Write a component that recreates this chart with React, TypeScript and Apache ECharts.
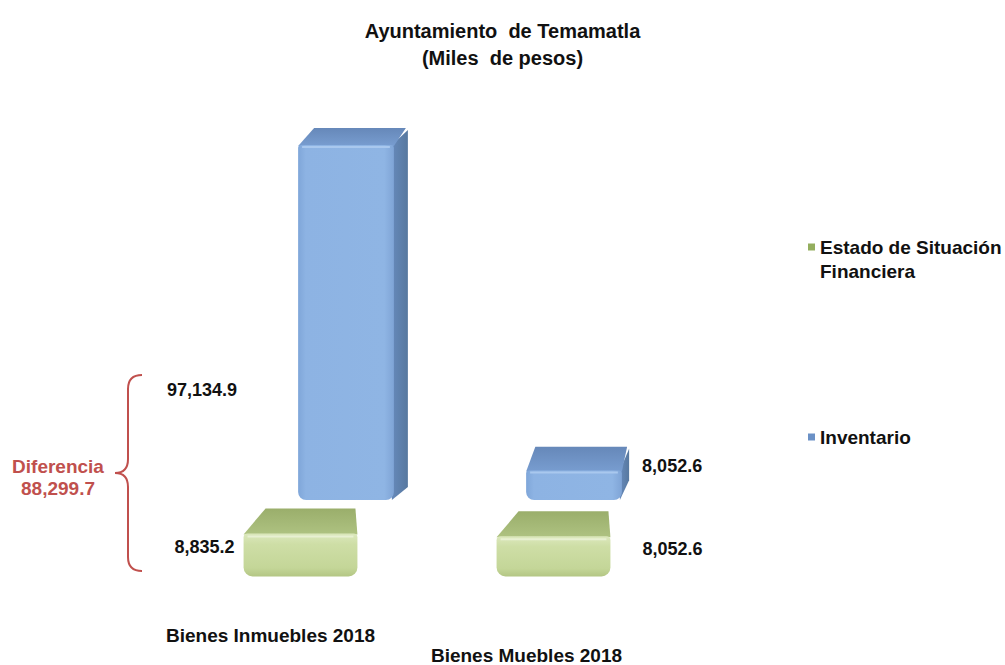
import React, { useEffect, useRef } from 'react';
import * as echarts from 'echarts';

const categories = ['Bienes Inmuebles 2018', 'Bienes Muebles 2018'];
const seriesNames = ['Estado de Situación Financiera', 'Inventario'];
const estadoValues = [8835.2, 8052.6];
const inventarioValues = [97134.9, 8052.6];
const titleText = 'Ayuntamiento  de Temamatla\n(Miles  de pesos)';
const diffCaption = 'Diferencia';

const FONT = '"Liberation Sans", Arial, sans-serif';
const fmt = (v: number) =>
  v.toLocaleString('en-US', { minimumFractionDigits: 1, maximumFractionDigits: 1 });

const BRACE_D =
  'M27,0 Q13,0 13,14 L13,84 Q13,98 0,98 Q13,98 13,112 L13,182 Q13,196 27,196';
let braceRegistered = false;

type Kind = 'front' | 'back';

function makeRenderItem(kind: Kind) {
  return (params: any, api: any) => {
    const idx = api.value(0) as number;
    const val = api.value(1) as number;
    const pt = api.coord([idx, val]);
    const cs = params.coordSys;
    const yB = cs.y + cs.height;
    const band = api.size([1, 0])[0];
    const w = band * (kind === 'front' ? 0.45 : 0.42);
    const x0 = pt[0] - w / 2;
    const x1 = pt[0] + w / 2;
    const yT = pt[1];
    const t = Math.min(1, Math.max(0, (yT - 145) / (530 - 145)));
    const dy = 17 + 8 * t;
    const children: any[] = [];
    if (kind === 'back') {
      const dx = 14 - 8 * t;
      children.push({
        type: 'polygon',
        shape: { points: [[x1 - 2, yT], [x1 + dx, yT - dy + 2], [x1 + dx, yB - dy + 4], [x1 - 2, yB]] },
        style: {
          fill: new echarts.graphic.LinearGradient(0, 0, 1, 0, [
            { offset: 0, color: '#6689BA' },
            { offset: 1, color: '#57789F' },
          ]),
        },
      });
      children.push({
        type: 'polygon',
        shape: { points: [[x0, yT + 1], [x0 + dx + 2, yT - dy], [x1 + dx - 2, yT - dy], [x1, yT + 1]] },
        style: {
          fill: new echarts.graphic.LinearGradient(0, 0, 0, 1, [
            { offset: 0, color: '#6688B9' },
            { offset: 1, color: '#789DD0' },
          ]),
        },
      });
      children.push({
        type: 'rect',
        shape: { x: x0, y: yT, width: w, height: yB - yT, r: [3, 3, 8, 8] },
        style: {
          fill: new echarts.graphic.LinearGradient(0, 0, 1, 0, [
            { offset: 0, color: '#7FA6D9' },
            { offset: 0.08, color: '#8DB3E3' },
            { offset: 0.9, color: '#8FB5E4' },
            { offset: 1, color: '#7FA4D6' },
          ]),
        },
      });
      children.push({
        type: 'line',
        shape: { x1: x0 + 4, y1: yT + 2, x2: x1 - 4, y2: yT + 2 },
        style: { stroke: '#A9C8EE', lineWidth: 2 },
      });
      const isLeft = idx === 0;
      children.push({
        type: 'text',
        style: {
          text: fmt(val),
          x: isLeft ? x0 - 61 : x1 + dx + 13,
          y: Math.max(yT - 5, yB - 110),
          align: isLeft ? 'right' : 'left',
          verticalAlign: 'middle',
          fontFamily: FONT,
          fontWeight: 'bold',
          fontSize: 18,
          fill: '#111111',
        },
      });
    } else {
      const dxL = 22;
      const dxR = -2;
      children.push({
        type: 'polygon',
        shape: { points: [[x0, yT + 1], [x0 + dxL, yT - dy], [x1 + dxR, yT - dy], [x1, yT + 1]] },
        style: {
          fill: new echarts.graphic.LinearGradient(0, 0, 0, 1, [
            { offset: 0, color: '#9AAE6B' },
            { offset: 1, color: '#AEC281' },
          ]),
        },
      });
      children.push({
        type: 'rect',
        shape: { x: x0, y: yT, width: w, height: yB - yT, r: [4, 4, 9, 9] },
        style: {
          fill: new echarts.graphic.LinearGradient(0, 0, 0, 1, [
            { offset: 0, color: '#DCE8BD' },
            { offset: 0.25, color: '#CEDEA6' },
            { offset: 0.8, color: '#C4D698' },
            { offset: 1, color: '#B3C684' },
          ]),
        },
      });
      children.push({
        type: 'line',
        shape: { x1: x0 + 4, y1: yT + 3, x2: x1 - 4, y2: yT + 3 },
        style: { stroke: '#E8F0D2', lineWidth: 2 },
      });
      const isLeft = idx === 0;
      children.push({
        type: 'text',
        style: {
          text: fmt(val),
          x: isLeft ? x0 - 9 : x1 + 32,
          y: (yT - dy + yB) / 2 + 5,
          align: isLeft ? 'right' : 'left',
          verticalAlign: 'middle',
          fontFamily: FONT,
          fontWeight: 'bold',
          fontSize: 18,
          fill: '#111111',
        },
      });
    }
    return { type: 'group', children };
  };
}

export default function App() {
  const ref = useRef<HTMLDivElement>(null);
  useEffect(() => {
    document.body.style.margin = '0';
    if (!braceRegistered) {
      echarts.graphic.registerShape('brace', echarts.graphic.extendPath(BRACE_D, {}) as any);
      braceRegistered = true;
    }
    const chart = echarts.init(ref.current!, undefined, { renderer: 'svg' });
    const estadoData = estadoValues.map((v, i) => [i, v]);
    const inventarioData = inventarioValues.map((v, i) => [i, v]);
    const diff = inventarioValues[0] - estadoValues[0];
    const labelFont = { fontFamily: FONT, fontWeight: 'bold' as const, fontSize: 19, color: '#111111' };

    chart.setOption({
      animation: false,
      backgroundColor: '#ffffff',
      title: {
        text: titleText,
        left: 'center',
        top: 17,
        padding: [0, 0, 0, 22],
        textStyle: { fontFamily: FONT, fontWeight: 'bold', fontSize: 20, lineHeight: 27, color: '#111111' },
      },
      legend: [
        {
          data: [seriesNames[0]],
          left: 808,
          top: 211,
          padding: 0,
          icon: 'rect',
          itemWidth: 7,
          itemHeight: 7,
          selectedMode: false,
          formatter: (n: string) => ' \n' + n.replace(' Financiera', '\nFinanciera'),
          textStyle: { ...labelFont, lineHeight: 24 },
        },
        {
          data: [seriesNames[1]],
          left: 808,
          top: 425,
          padding: 0,
          icon: 'rect',
          itemWidth: 7,
          itemHeight: 7,
          selectedMode: false,
          textStyle: { ...labelFont, lineHeight: 24 },
        },
      ],
      grid: [
        { left: 174, width: 506, top: 165, height: 413 },
        { left: 232, width: 456, top: 98, height: 402 },
      ],
      xAxis: [
        {
          type: 'category',
          gridIndex: 0,
          data: categories,
          axisLine: { show: false },
          axisTick: { show: false },
          splitLine: { show: false },
          axisLabel: {
            interval: 0,
            margin: 48,
            ...labelFont,
            formatter: (v: string, i: number) => (i === 1 ? `{b|${v}}` : `{a|${v}}`),
            rich: {
              a: { ...labelFont, lineHeight: 22, padding: [0, 60, 0, 0] },
              b: { ...labelFont, lineHeight: 22, padding: [40, 54, 0, 0] },
            },
          },
        },
        {
          type: 'category',
          gridIndex: 1,
          data: categories,
          show: false,
        },
      ],
      yAxis: [
        { type: 'value', gridIndex: 0, min: -3000, max: 110000, show: false, splitLine: { show: false } },
        { type: 'value', gridIndex: 1, min: 0, max: 110000, show: false, splitLine: { show: false } },
      ],
      series: [
        {
          name: seriesNames[0],
          type: 'custom',
          xAxisIndex: 0,
          yAxisIndex: 0,
          z: 3,
          itemStyle: { color: '#94AE5E' },
          encode: { x: 0, y: 1 },
          data: estadoData,
          renderItem: makeRenderItem('front'),
        },
        {
          name: seriesNames[1],
          type: 'custom',
          xAxisIndex: 1,
          yAxisIndex: 1,
          z: 2,
          itemStyle: { color: '#6B91C6' },
          encode: { x: 0, y: 1 },
          data: inventarioData,
          renderItem: makeRenderItem('back'),
        },
      ],
      graphic: [
        {
          type: 'brace',
          x: 115,
          y: 375,
          style: { fill: 'none', stroke: '#C0504D', lineWidth: 2 },
        },
        {
          type: 'text',
          x: 58,
          y: 477,
          style: {
            text: diffCaption + '\n' + fmt(diff),
            align: 'center',
            verticalAlign: 'middle',
            fontFamily: FONT,
            fontWeight: 'bold',
            fontSize: 19,
            lineHeight: 22,
            fill: '#C0504D',
          },
        },
      ],
    });
    return () => chart.dispose();
  }, []);
  return <div ref={ref} style={{ width: 1005, height: 665 }} />;
}
